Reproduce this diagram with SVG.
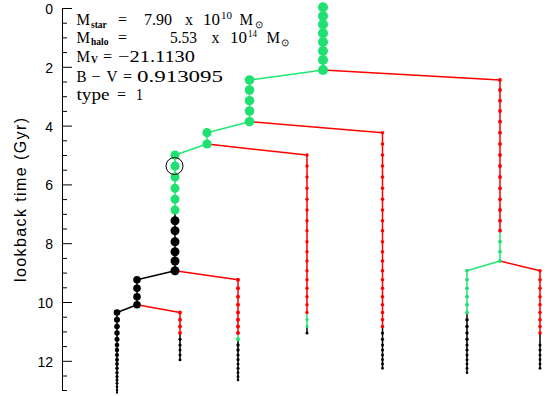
<svg xmlns="http://www.w3.org/2000/svg" width="547" height="396" viewBox="0 0 547 396">
<style>
.ax{stroke:#000;stroke-width:1;fill:none}
.tl{font-family:"Liberation Sans",Arial,sans-serif;font-size:14px;fill:#000;text-anchor:end}
.tt{font-family:"Liberation Serif","Times New Roman",serif;font-size:16px;fill:#000}
.sb{font-size:9.5px;font-weight:bold}
.sp{font-size:9.5px}
.c{fill:none;stroke-width:1.5;stroke-linejoin:round}
.cg{stroke:#22e872}.cr{stroke:#ff0000}.ck{stroke:#000}
.g{fill:#1fe070}.r{fill:#ff0000}.k{fill:#000}
</style>
<rect width="547" height="396" fill="#fff"/>
<g id="axis">
<path class="ax" d="M62.5,8V391"/>
<path class="ax" d="M62.5,8.5H72M62.5,23.2H67M62.5,37.9H67M62.5,52.6H67M62.5,67.3H72M62.5,82H67M62.5,96.7H67M62.5,111.4H67M62.5,126.1H72M62.5,140.8H67M62.5,155.5H67M62.5,170.2H67M62.5,184.9H72M62.5,199.6H67M62.5,214.3H67M62.5,229H67M62.5,243.7H72M62.5,258.4H67M62.5,273.1H67M62.5,287.8H67M62.5,302.5H72M62.5,317.2H67M62.5,331.9H67M62.5,346.6H67M62.5,361.3H72M62.5,376H67M62.5,390.5H67"/>
<text class="tl" x="53" y="14">0</text>
<text class="tl" x="53" y="72.5">2</text>
<text class="tl" x="53" y="131.5">4</text>
<text class="tl" x="53" y="190">6</text>
<text class="tl" x="53" y="249">8</text>
<text class="tl" x="53" y="307.5">10</text>
<text class="tl" x="53" y="366.5">12</text>
<text font-family="Liberation Sans,Arial,sans-serif" font-size="16" text-anchor="middle" transform="translate(26,200) rotate(-90)" textLength="164">lookback time (Gyr)</text>
</g>
<g id="info" class="tt">
<text x="76.5" y="25" textLength="13.5" lengthAdjust="spacingAndGlyphs">M</text><text class="sb" x="91" y="28">star</text><text x="118" y="25">=</text><text x="144" y="25" textLength="28" lengthAdjust="spacingAndGlyphs">7.90</text><text x="185" y="25">x</text><text x="203" y="25" textLength="17" lengthAdjust="spacingAndGlyphs">10</text><text class="sp" x="221" y="18.5" textLength="11" lengthAdjust="spacingAndGlyphs">10</text><text x="239.5" y="25" textLength="13.5" lengthAdjust="spacingAndGlyphs">M</text><text class="sp" x="255" y="28">⊙</text>
<text x="76.5" y="43" textLength="13.5" lengthAdjust="spacingAndGlyphs">M</text><text class="sb" x="91" y="45">halo</text><text x="118" y="43">=</text><text x="170" y="43" textLength="27" lengthAdjust="spacingAndGlyphs">5.53</text><text x="211.5" y="43">x</text><text x="230" y="43" textLength="17" lengthAdjust="spacingAndGlyphs">10</text><text class="sp" x="248" y="37" textLength="9" lengthAdjust="spacingAndGlyphs">14</text><text x="266.5" y="43" textLength="13.5" lengthAdjust="spacingAndGlyphs">M</text><text class="sp" x="280.5" y="46">⊙</text>
<text x="76.5" y="61.5" textLength="13.5" lengthAdjust="spacingAndGlyphs">M</text><text class="sb" x="91" y="63">V</text><text x="103" y="61.5">=</text><text x="118" y="61.5" textLength="77" lengthAdjust="spacingAndGlyphs">−21.1130</text>
<text x="76.5" y="81.5" textLength="10" lengthAdjust="spacingAndGlyphs">B</text><text x="91.5" y="81.5">−</text><text x="106.5" y="81.5" textLength="11" lengthAdjust="spacingAndGlyphs">V</text><text x="123" y="81.5">=</text><text x="137" y="81.5" textLength="86" lengthAdjust="spacingAndGlyphs">0.913095</text>
<text x="76.5" y="99.5" textLength="33" lengthAdjust="spacingAndGlyphs">type</text><text x="117" y="99.5">=</text><text x="136" y="99.5" textLength="7" lengthAdjust="spacingAndGlyphs">1</text>
</g>
<g id="connectors" class="c">
<path class="cg" d="M323,7.3V70L249.5,80V121.7L207,132.7V144L175,155V210"/>
<path class="ck" d="M175,210V270.7L137,279.7V304.7L117,312.5V392.7"/>
<path class="cr" d="M323,70L500,80V230.7"/>
<path class="cg" d="M500,230.7V261L467,270.7V312.5"/>
<path class="ck" d="M467,312.5V372.7"/>
<path class="cr" d="M500,261L540,270.7V333"/>
<path class="ck" d="M540,333V368.3"/>
<path class="cr" d="M249.5,121.7L382.5,132.7V326.5"/>
<path class="ck" d="M382.5,326.5V368.3"/>
<path class="cr" d="M207,144L307,155V312.5"/>
<path class="cg" d="M307,312.5V326.5"/>
<path class="ck" d="M307,326.5V333"/>
<path class="cr" d="M175,270.7L238,279.7V333"/>
<path class="cg" d="M238,333V339.3"/>
<path class="ck" d="M238,339.3V380"/>
<path class="cr" d="M137,304.7L180,312.5V333"/>
<path class="ck" d="M180,333V359.7"/>
</g>
<g id="branch-main" class="g">
<circle cx="323" cy="7.3" r="5"/><circle cx="323" cy="16" r="5"/><circle cx="323" cy="24.4" r="5"/><circle cx="323" cy="33.3" r="5"/><circle cx="323" cy="42" r="5"/><circle cx="323" cy="51" r="5"/><circle cx="323" cy="60" r="5"/><circle cx="323" cy="70" r="5"/>
</g>
<g id="branch-b" class="g">
<circle cx="249.5" cy="80" r="4.8"/><circle cx="249.5" cy="90" r="4.8"/><circle cx="249.5" cy="100.7" r="4.8"/><circle cx="249.5" cy="111" r="4.8"/><circle cx="249.5" cy="121.7" r="4.8"/>
</g>
<g id="branch-c" class="g">
<circle cx="207" cy="132.7" r="4.6"/><circle cx="207" cy="144" r="4.6"/>
</g>
<g id="branch-d">
<g class="g"><circle cx="175" cy="155" r="4.5"/><circle cx="175" cy="166" r="4.5"/><circle cx="175" cy="177" r="4.5"/><circle cx="175" cy="188.3" r="4.5"/><circle cx="175" cy="199.3" r="4.5"/><circle cx="175" cy="210" r="4.5"/></g>
<g class="k"><circle cx="175" cy="220.7" r="4.5"/><circle cx="175" cy="230.7" r="4.5"/><circle cx="175" cy="241.7" r="4.5"/><circle cx="175" cy="251.7" r="4.5"/><circle cx="175" cy="261" r="4.5"/><circle cx="175" cy="270.7" r="4.5"/></g>
<circle cx="174.5" cy="166" r="8.5" fill="none" stroke="#000" stroke-width="1"/>
</g>
<g id="branch-e" class="k">
<circle cx="137" cy="279.7" r="3.8"/><circle cx="137" cy="288.3" r="3.8"/><circle cx="137" cy="296.7" r="3.8"/><circle cx="137" cy="304.7" r="3.8"/>
</g>
<g id="branch-f" class="k">
<circle cx="117" cy="312.5" r="3.3"/><circle cx="117" cy="319.7" r="3"/><circle cx="117" cy="326.5" r="2.8"/><circle cx="117" cy="333" r="2.7"/><circle cx="117" cy="339.3" r="2.5"/><circle cx="117" cy="345" r="2.3"/><circle cx="117" cy="350" r="2.2"/><circle cx="117" cy="355" r="2.1"/><circle cx="117" cy="359.7" r="2"/><circle cx="117" cy="364" r="1.9"/><circle cx="117" cy="368.3" r="1.8"/><circle cx="117" cy="372.7" r="1.7"/><circle cx="117" cy="376.7" r="1.6"/><circle cx="117" cy="380" r="1.5"/><circle cx="117" cy="383.3" r="1.4"/><circle cx="117" cy="386.7" r="1.3"/><circle cx="117" cy="390" r="1.2"/><circle cx="117" cy="392.7" r="1.1"/>
</g>
<g id="branch-g">
<g class="r"><circle cx="180" cy="312.5" r="1.9"/><circle cx="180" cy="319.7" r="1.9"/><circle cx="180" cy="326.5" r="1.9"/><circle cx="180" cy="333" r="1.9"/></g>
<g class="k"><circle cx="180" cy="339.3" r="1.6"/><circle cx="180" cy="345" r="1.6"/><circle cx="180" cy="350" r="1.5"/><circle cx="180" cy="355" r="1.5"/><circle cx="180" cy="359.7" r="1.5"/></g>
</g>
<g id="branch-h">
<g class="r"><circle cx="238" cy="279.7" r="2"/><circle cx="238" cy="288.3" r="2"/><circle cx="238" cy="296.7" r="2"/><circle cx="238" cy="304.7" r="2"/><circle cx="238" cy="312.5" r="2"/><circle cx="238" cy="319.7" r="2"/><circle cx="238" cy="326.5" r="2"/><circle cx="238" cy="333" r="2"/></g>
<circle class="g" cx="238" cy="339.3" r="2"/>
<g class="k"><circle cx="238" cy="345" r="1.7"/><circle cx="238" cy="350" r="1.7"/><circle cx="238" cy="355" r="1.6"/><circle cx="238" cy="359.7" r="1.6"/><circle cx="238" cy="364" r="1.5"/><circle cx="238" cy="368.3" r="1.5"/><circle cx="238" cy="372.7" r="1.4"/><circle cx="238" cy="376.7" r="1.4"/><circle cx="238" cy="380" r="1.3"/></g>
</g>
<g id="branch-i">
<g class="r"><circle cx="307" cy="155" r="1.7"/><circle cx="307" cy="166" r="1.7"/><circle cx="307" cy="177" r="1.7"/><circle cx="307" cy="188.3" r="1.7"/><circle cx="307" cy="199.3" r="1.7"/><circle cx="307" cy="210" r="1.7"/><circle cx="307" cy="220.7" r="1.7"/><circle cx="307" cy="230.7" r="1.7"/><circle cx="307" cy="241.7" r="1.7"/><circle cx="307" cy="251.7" r="1.7"/><circle cx="307" cy="261" r="1.7"/><circle cx="307" cy="270.7" r="1.7"/><circle cx="307" cy="279.7" r="1.7"/><circle cx="307" cy="288.3" r="1.7"/><circle cx="307" cy="296.7" r="1.7"/><circle cx="307" cy="304.7" r="1.7"/><circle cx="307" cy="312.5" r="1.7"/></g>
<g class="g"><circle cx="307" cy="319.7" r="1.6"/><circle cx="307" cy="326.5" r="1.6"/></g>
<circle class="k" cx="307" cy="333" r="1.5"/>
</g>
<g id="branch-j">
<g class="r"><circle cx="382.5" cy="132.7" r="1.8"/><circle cx="382.5" cy="144" r="1.8"/><circle cx="382.5" cy="155" r="1.8"/><circle cx="382.5" cy="166" r="1.8"/><circle cx="382.5" cy="177" r="1.8"/><circle cx="382.5" cy="188.3" r="1.8"/><circle cx="382.5" cy="199.3" r="1.8"/><circle cx="382.5" cy="210" r="1.8"/><circle cx="382.5" cy="220.7" r="1.8"/><circle cx="382.5" cy="230.7" r="1.8"/><circle cx="382.5" cy="241.7" r="1.8"/><circle cx="382.5" cy="251.7" r="1.8"/><circle cx="382.5" cy="261" r="1.8"/><circle cx="382.5" cy="270.7" r="1.8"/><circle cx="382.5" cy="279.7" r="1.8"/><circle cx="382.5" cy="288.3" r="1.8"/><circle cx="382.5" cy="296.7" r="1.8"/><circle cx="382.5" cy="304.7" r="1.8"/><circle cx="382.5" cy="312.5" r="1.8"/><circle cx="382.5" cy="319.7" r="1.8"/><circle cx="382.5" cy="326.5" r="1.8"/></g>
<g class="k"><circle cx="382.5" cy="333" r="1.6"/><circle cx="382.5" cy="339.3" r="1.6"/><circle cx="382.5" cy="345" r="1.5"/><circle cx="382.5" cy="350" r="1.5"/><circle cx="382.5" cy="355" r="1.5"/><circle cx="382.5" cy="359.7" r="1.4"/><circle cx="382.5" cy="364" r="1.4"/><circle cx="382.5" cy="368.3" r="1.4"/></g>
</g>
<g id="branch-k">
<g class="r"><circle cx="500" cy="80" r="1.9"/><circle cx="500" cy="90" r="1.9"/><circle cx="500" cy="100.7" r="1.9"/><circle cx="500" cy="111" r="1.9"/><circle cx="500" cy="121.7" r="1.9"/><circle cx="500" cy="132.7" r="1.9"/><circle cx="500" cy="144" r="1.9"/><circle cx="500" cy="155" r="1.9"/><circle cx="500" cy="166" r="1.9"/><circle cx="500" cy="177" r="1.9"/><circle cx="500" cy="188.3" r="1.9"/><circle cx="500" cy="199.3" r="1.9"/><circle cx="500" cy="210" r="1.9"/><circle cx="500" cy="220.7" r="1.9"/><circle cx="500" cy="230.7" r="1.9"/></g>
<g class="g"><circle cx="500" cy="241.7" r="1.9"/><circle cx="500" cy="251.7" r="1.9"/><circle cx="500" cy="261" r="1.9"/></g>
</g>
<g id="branch-l">
<g class="g"><circle cx="467" cy="270.7" r="1.9"/><circle cx="467" cy="279.7" r="1.9"/><circle cx="467" cy="288.3" r="1.9"/><circle cx="467" cy="296.7" r="1.9"/><circle cx="467" cy="304.7" r="1.9"/><circle cx="467" cy="312.5" r="1.9"/></g>
<g class="k"><circle cx="467" cy="319.7" r="1.8"/><circle cx="467" cy="326.5" r="1.8"/><circle cx="467" cy="333" r="1.7"/><circle cx="467" cy="339.3" r="1.7"/><circle cx="467" cy="345" r="1.6"/><circle cx="467" cy="350" r="1.6"/><circle cx="467" cy="355" r="1.5"/><circle cx="467" cy="359.7" r="1.5"/><circle cx="467" cy="364" r="1.4"/><circle cx="467" cy="368.3" r="1.4"/><circle cx="467" cy="372.7" r="1.3"/></g>
</g>
<g id="branch-m">
<g class="r"><circle cx="540" cy="270.7" r="1.8"/><circle cx="540" cy="279.7" r="1.8"/><circle cx="540" cy="288.3" r="1.8"/><circle cx="540" cy="296.7" r="1.8"/><circle cx="540" cy="304.7" r="1.8"/><circle cx="540" cy="312.5" r="1.8"/><circle cx="540" cy="319.7" r="1.8"/><circle cx="540" cy="326.5" r="1.8"/><circle cx="540" cy="333" r="1.8"/></g>
<g class="k"><circle cx="540" cy="345" r="1.5"/><circle cx="540" cy="350" r="1.5"/><circle cx="540" cy="355" r="1.5"/><circle cx="540" cy="359.7" r="1.4"/><circle cx="540" cy="364" r="1.4"/><circle cx="540" cy="368.3" r="1.4"/></g>
</g>
</svg>
